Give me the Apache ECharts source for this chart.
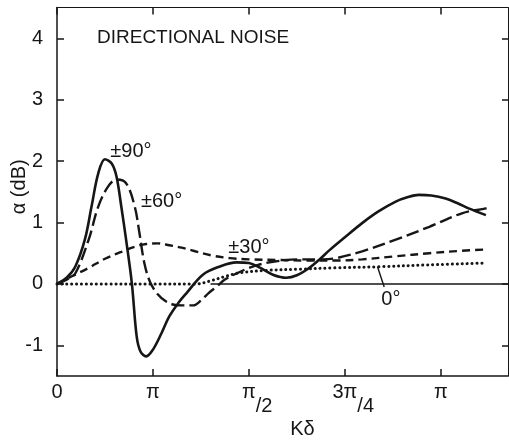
<!DOCTYPE html>
<html><head><meta charset="utf-8">
<script src="https://cdn.jsdelivr.net/npm/echarts@6/dist/echarts.min.js"></script>
<style>html,body{margin:0;padding:0;background:#fff}#c{width:509px;height:443px}</style>
</head><body><div id="c"></div>
<script>
// x in units of pi/4
const xTicks = [0, 1, 2, 3, 4];
const xTickLabels = ['0', 'π', 'π/2', '3π/4', 'π'];
const yTicks = [-1, 0, 1, 2, 3, 4];
const yTickLabels = ['-1', '0', '1', '2', '3', '4'];

const s90 = [[0,0],[0.1,0.1],[0.19,0.28],[0.29,0.72],[0.36,1.26],[0.43,1.8],[0.5,2.03],[0.57,1.96],[0.62,1.75],[0.67,1.26],[0.72,0.72],[0.78,0.01],[0.83,-0.85],[0.87,-1.1],[0.93,-1.18],[1.0,-1.07],[1.09,-0.8],[1.17,-0.53],[1.27,-0.3],[1.35,-0.15],[1.52,0.15],[1.69,0.28],[1.87,0.35],[2.0,0.34],[2.12,0.26],[2.25,0.15],[2.39,0.1],[2.5,0.14],[2.62,0.25],[2.73,0.39],[2.84,0.55],[3.0,0.76],[3.18,0.99],[3.35,1.18],[3.53,1.34],[3.65,1.41],[3.77,1.45],[3.9,1.44],[4.05,1.39],[4.18,1.31],[4.29,1.23],[4.47,1.12]];
const s60 = [[0,0],[0.1,0.07],[0.19,0.17],[0.33,0.72],[0.43,1.26],[0.53,1.58],[0.62,1.7],[0.72,1.64],[0.81,1.26],[0.86,0.82],[0.91,0.34],[0.97,0.03],[1.05,-0.17],[1.13,-0.28],[1.22,-0.34],[1.3,-0.35],[1.42,-0.35],[1.5,-0.27],[1.58,-0.15],[1.66,-0.05],[1.75,0.07],[1.87,0.17],[2.0,0.26],[2.12,0.32],[2.25,0.36],[2.5,0.4],[2.77,0.4],[2.91,0.42],[3.18,0.53],[3.53,0.72],[3.88,0.93],[4.22,1.15],[4.47,1.23],[4.52,1.25]];
const s30 = [[0,0],[0.15,0.12],[0.33,0.26],[0.5,0.41],[0.67,0.52],[0.8,0.6],[0.93,0.65],[1.05,0.66],[1.17,0.63],[1.3,0.59],[1.42,0.54],[1.62,0.46],[1.8,0.42],[2.0,0.4],[2.3,0.39],[2.6,0.38],[2.91,0.38],[3.18,0.4],[3.53,0.45],[3.88,0.5],[4.22,0.54],[4.47,0.56]];
const s0 = [[0,0],[0.5,0],[1.0,0],[1.45,0],[1.6,0.05],[1.75,0.12],[1.9,0.18],[2.18,0.22],[2.53,0.24],[2.87,0.26],[3.36,0.28],[3.88,0.31],[4.47,0.34]];

const seriesNames = ['±90°', '±60°', '±30°', '0°'];
const labelPos = [[0.77, 2.15], [1.09, 1.34], [2.0, 0.6], [3.48, -0.26]];
const leader = [[3.34, 0.28], [3.41, -0.05]];
const baseline = [[1.6, 0], [4.7, 0]];

const FONT = 'Liberation Sans';
const INK = '#161616';
const chart = echarts.init(document.getElementById('c'), null, {renderer: 'canvas'});

function lbl(i) {
  return {
    symbol: 'circle', symbolSize: 0, silent: true,
    label: {show: true, position: 'inside', formatter: seriesNames[i], color: INK,
      fontFamily: FONT, fontSize: 20},
    data: [{coord: labelPos[i]}]
  };
}
const rich = {
  n: {fontFamily: FONT, fontSize: 20, color: INK},
  h: {fontFamily: FONT, fontSize: 20, color: 'rgba(0,0,0,0)', padding: [14, 0, 0, 0]},
  p: {fontFamily: FONT, fontSize: 20, color: INK, verticalAlign: 'top'},
  d: {fontFamily: FONT, fontSize: 20, color: INK, padding: [14, 0, 0, 0]}
};
function xFmt(v) {
  const i = xTicks.indexOf(Math.round(v * 1000) / 1000);
  const t = i >= 0 ? xTickLabels[i] : '';
  const k = t.indexOf('/');
  if (k < 0) return '{n|' + t + '}';
  const tail = t.slice(k);
  return '{h|' + tail + '}{p|' + t.slice(0, k) + '}{d|' + tail + '}';
}
function yFmt(v) {
  const i = yTicks.indexOf(Math.round(v * 1000) / 1000);
  return i >= 0 ? yTickLabels[i] : '';
}
const axLine = {show: true, onZero: false, lineStyle: {color: INK, width: 1.5}};
const axLine2 = {show: true, onZero: false, lineStyle: {color: INK, width: 1}};
const baseLS = {color: INK, width: 2.4};

chart.setOption({
  animation: false,
  backgroundColor: '#fff',
  title: {text: 'DIRECTIONAL NOISE', left: 92, top: 23,
    textStyle: {fontFamily: FONT, fontWeight: 'normal', fontSize: 19, color: INK}},
  grid: {left: 57, right: 1, top: 7.6, bottom: 67, containLabel: false, outerBoundsMode: 'none'},
  xAxis: [{
    type: 'value', min: 0, max: 4.7, position: 'bottom',
    axisLine: axLine, splitLine: {show: false},
    axisTick: {show: true, inside: true, length: 7, customValues: xTicks, lineStyle: {color: INK, width: 1.5}},
    axisLabel: {customValues: xTicks, formatter: xFmt, rich: rich, margin: 6, color: INK},
    name: 'Kδ', nameLocation: 'middle', nameGap: 43, nameMoveOverlap: false,
    nameTextStyle: {fontFamily: FONT, fontSize: 20, color: INK, padding: [0, 0, 0, 40]}
  }, {
    type: 'value', min: 0, max: 4.7, position: 'top',
    axisLine: axLine2, splitLine: {show: false},
    axisTick: {show: true, inside: true, length: 7, customValues: xTicks, lineStyle: {color: INK, width: 1.5}},
    axisLabel: {show: false}
  }],
  yAxis: [{
    type: 'value', min: -1.5, max: 4.5, position: 'left',
    axisLine: axLine, splitLine: {show: false},
    axisTick: {show: true, inside: true, length: 7, customValues: yTicks, lineStyle: {color: INK, width: 1.5}},
    axisLabel: {customValues: yTicks, formatter: yFmt, margin: 14, color: INK, fontFamily: FONT, fontSize: 20},
    name: 'α (dB)', nameLocation: 'middle', nameRotate: 90, nameGap: 28, nameMoveOverlap: false,
    nameTextStyle: {fontFamily: FONT, fontSize: 20, color: INK, padding: [0, 0, 0, 10]}
  }, {
    type: 'value', min: -1.5, max: 4.5, position: 'right',
    axisLine: axLine2, splitLine: {show: false},
    axisTick: {show: true, inside: true, length: 6, customValues: yTicks, lineStyle: {color: INK, width: 1.5}},
    axisLabel: {show: false}
  }],
  series: [
    {name: seriesNames[0], type: 'line', data: s90, smooth: 0.35, symbol: 'none',
      lineStyle: Object.assign({}, baseLS, {width: 2.6}), markPoint: lbl(0),
      markLine: {symbol: 'none', silent: true, label: {show: false},
        lineStyle: {color: INK, width: 1.6, type: 'solid'},
        data: [[{coord: baseline[0]}, {coord: baseline[1]}]]}},
    {name: seriesNames[1], type: 'line', data: s60, smooth: 0.35, symbol: 'none',
      lineStyle: Object.assign({}, baseLS, {type: [13, 5]}), markPoint: lbl(1)},
    {name: seriesNames[2], type: 'line', data: s30, smooth: 0.35, symbol: 'none',
      lineStyle: Object.assign({}, baseLS, {type: [8, 5]}), markPoint: lbl(2)},
    {name: seriesNames[3], type: 'line', data: s0, smooth: 0.35, symbol: 'none',
      lineStyle: {color: INK, width: 3, type: [0.1, 4.8], cap: 'round'}, markPoint: lbl(3),
      markLine: {symbol: 'none', silent: true, label: {show: false},
        lineStyle: {color: INK, width: 1.4, type: 'solid'},
        data: [[{coord: leader[0]}, {coord: leader[1]}]]}}
  ]
});
</script></body></html>
